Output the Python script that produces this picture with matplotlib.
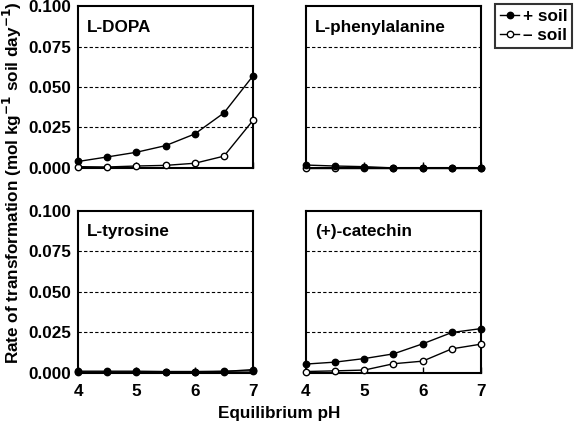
import matplotlib.pyplot as plt

plt.rcParams['font.family'] = ['Liberation Sans', 'DejaVu Sans']
plt.rcParams['font.weight'] = 'bold'
plt.rcParams['mathtext.default'] = 'bf'

ph = [4, 4.5, 5, 5.5, 6, 6.5, 7]

# rate of transformation, mol kg-1 soil day-1
dopa_plus = [0.004, 0.0068, 0.0097, 0.0138, 0.021, 0.034, 0.057]
dopa_minus = [0.0008, 0.0006, 0.0012, 0.0016, 0.0029, 0.0073, 0.0295]
phe_plus = [0.0018, 0.0012, 0.0008, 0.0, 0.0, 0.0, 0.0]
phe_minus = [0.0, 0.0, 0.0, 0.0, 0.0, 0.0, 0.0]
tyr_plus = [0.001, 0.001, 0.001, 0.0008, 0.0008, 0.001, 0.0012]
tyr_minus = [0.0005, 0.0005, 0.0005, 0.0005, 0.0005, 0.0008, 0.002]
cat_plus = [0.0054, 0.0066, 0.0088, 0.0117, 0.0179, 0.0249, 0.0273]
cat_minus = [0.0008, 0.0012, 0.0017, 0.0056, 0.0072, 0.0148, 0.0177]

panels = [
    ('L-DOPA', dopa_plus, dopa_minus),
    ('L-phenylalanine', phe_plus, phe_minus),
    ('L-tyrosine', tyr_plus, tyr_minus),
    ('(+)-catechin', cat_plus, cat_minus),
]

yticks = [0, 0.025, 0.05, 0.075, 0.1]
ytick_labels = ['0.000', '0.025', '0.050', '0.075', '0.100']
xticks = [4, 5, 6, 7]
fs = 12.3

fig = plt.figure(figsize=(5.74, 4.34), dpi=100)
positions = [
    [0.136, 0.613, 0.305, 0.373],
    [0.533, 0.613, 0.305, 0.373],
    [0.136, 0.141, 0.305, 0.373],
    [0.533, 0.141, 0.305, 0.373],
]

for i, (name, plus, minus) in enumerate(panels):
    ax = fig.add_axes(positions[i])
    ax.set_xlim(4, 7)
    ax.set_ylim(0, 0.1)
    for y in [0.025, 0.05, 0.075]:
        ax.axhline(y, color='black', linestyle=(0, (3, 2)), linewidth=0.8, zorder=1)
    ax.plot(ph, plus, '-o', color='black', markerfacecolor='black',
            markersize=4.6, linewidth=1, clip_on=False, zorder=4, label='+ soil')
    ax.plot(ph, minus, '-o', color='black', markerfacecolor='white',
            markersize=4.6, linewidth=1, clip_on=False, zorder=3, label='\u2013 soil')
    ax.text(0.05, 0.87, name, transform=ax.transAxes, fontsize=fs,
            fontweight='bold', va='center', ha='left')
    for s in ax.spines.values():
        s.set_linewidth(1.5)
    ax.set_xticks(xticks)
    ax.tick_params(axis='x', direction='in', length=4, width=1, top=False,
                   labelsize=fs, pad=8)
    ax.tick_params(axis='y', length=0, labelsize=fs, pad=5)
    ax.set_yticks(yticks)
    if i % 2 == 0:
        ax.set_yticklabels(ytick_labels)
    else:
        ax.set_yticklabels([])
    if i < 2:
        ax.set_xticklabels([])
    if i == 0:
        handles, labels = ax.get_legend_handles_labels()

leg = fig.legend(handles, labels, loc='upper right', bbox_to_anchor=(0.997, 0.991),
                 frameon=True, fancybox=False, edgecolor='black', fontsize=fs,
                 handlelength=1.1, handletextpad=0.2, borderpad=0.3,
                 labelspacing=0.25, borderaxespad=0)
leg.get_frame().set_linewidth(1.5)

fig.text(0.022, 0.58, 'Rate of transformation (mol kg$^{-1}$ soil day$^{-1}$)',
         rotation=90, ha='center', va='center', fontsize=fs, fontweight='bold')
fig.text(0.487, 0.048, 'Equilibrium pH', ha='center', va='center',
         fontsize=fs, fontweight='bold')

fig.savefig('out.png', dpi=100)
